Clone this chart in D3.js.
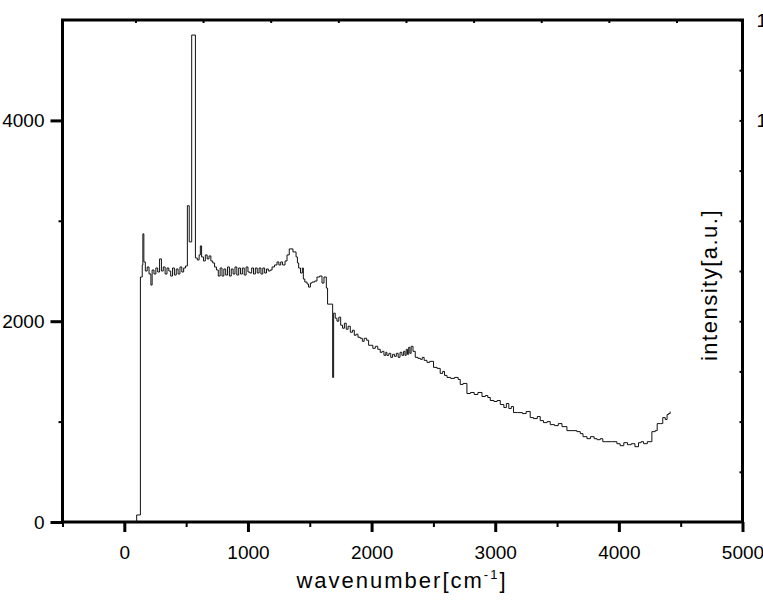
<!DOCTYPE html>
<html>
<head>
<meta charset="utf-8">
<script src="https://cdn.jsdelivr.net/npm/d3@7"></script>
<style>
  body { margin: 0; background: #fff; }
  svg { display: block; font-family: 'Liberation Sans', Arial, sans-serif; }
</style>
</head>
<body>
<svg class="spectrum-svg"></svg>
<script>
// spectrum (cm-1 / counts)
const wavenumber = [
  0, 100, 130, 145, 150, 158, 170, 185, 200, 215, 225, 240, 255, 270, 285, 300,
  315, 330, 345, 360, 375, 390, 405, 420, 435, 450, 465, 480, 495, 510, 525, 545,
  575, 590, 605, 615, 625, 640, 655, 670, 685, 700, 715, 730, 745, 760, 775, 790,
  805, 820, 835, 850, 865, 880, 895, 910, 925, 940, 955, 970, 985, 1000, 1015, 1030,
  1045, 1060, 1075, 1090, 1105, 1120, 1135, 1150, 1165, 1180, 1195, 1215, 1235, 1250, 1265, 1280,
  1300, 1316, 1334, 1364, 1389, 1400, 1410, 1425, 1440, 1448, 1460, 1478, 1490, 1505, 1518, 1540,
  1558, 1580, 1599, 1615, 1634, 1644, 1685, 1693, 1706, 1720, 1735, 1750, 1765, 1780, 1795, 1810,
  1828, 1845, 1860, 1875, 1890, 1908, 1925, 1940, 1960, 1976, 1995, 2010, 2030, 2050, 2070, 2085,
  2100, 2115, 2124, 2140, 2155, 2170, 2185, 2200, 2215, 2230, 2245, 2259, 2270, 2280, 2290, 2300,
  2310, 2320, 2335, 2353, 2375, 2395, 2410, 2425, 2448, 2470, 2501, 2530, 2555, 2575, 2590, 2610,
  2640, 2670, 2700, 2717, 2740, 2771, 2800, 2830, 2860, 2893, 2920, 2940, 2960, 2990, 3015, 3041,
  3070, 3090, 3110, 3130, 3148, 3180, 3220, 3250, 3283, 3310, 3340, 3364, 3390, 3420, 3445, 3480,
  3510, 3540, 3580, 3620, 3660, 3688, 3710, 3742, 3770, 3800, 3823, 3850, 3870, 3890, 3940, 3984,
  4010, 4040, 4070, 4100, 4130, 4159, 4180, 4200, 4230, 4267, 4294, 4310, 4335, 4355, 4375, 4390,
  4402, 4415
];
const intensity = [
  0, 70, 2440, 2560, 2870, 2590, 2500, 2540, 2470, 2360, 2510, 2470, 2530, 2490, 2620, 2500,
  2540, 2470, 2530, 2500, 2450, 2530, 2460, 2520, 2470, 2540, 2490, 2530, 2550, 3150, 2790, 4850,
  2630, 2610, 2660, 2750, 2640, 2600, 2660, 2620, 2650, 2600, 2580, 2540, 2510, 2450, 2530, 2450,
  2520, 2460, 2540, 2450, 2520, 2470, 2540, 2460, 2530, 2470, 2530, 2460, 2540, 2490, 2480, 2530,
  2470, 2530, 2480, 2530, 2470, 2530, 2480, 2520, 2500, 2510, 2540, 2560, 2590, 2560, 2590, 2560,
  2600, 2660, 2720, 2690, 2640, 2580, 2530, 2480, 2530, 2420, 2390, 2370, 2340, 2380, 2390, 2400,
  2440, 2450, 2380, 2440, 2330, 2170, 1440, 2080, 2030, 2000, 2040, 1960, 1930, 1980, 1920, 1950,
  1890, 1910, 1860, 1870, 1840, 1830, 1800, 1830, 1810, 1760, 1760, 1730, 1750, 1720, 1690, 1700,
  1660, 1690, 1660, 1680, 1640, 1670, 1650, 1680, 1640, 1690, 1660, 1700, 1660, 1720, 1670, 1740,
  1680, 1750, 1700, 1640, 1630, 1620, 1640, 1610, 1590, 1600, 1540, 1530, 1480, 1500, 1460, 1440,
  1430, 1440, 1420, 1370, 1380, 1280, 1290, 1270, 1290, 1250, 1260, 1240, 1210, 1200, 1210, 1170,
  1140, 1180, 1130, 1150, 1090, 1090, 1080, 1100, 1040, 1030, 1050, 1010, 990, 1000, 970, 960,
  980, 950, 910, 910, 900, 880, 850, 830, 850, 830, 820, 830, 800, 800, 800, 780,
  760, 790, 770, 780, 750, 790, 800, 780, 800, 900, 910, 980, 980, 1040, 1020, 1070,
  1080, 1100
];

const xTicks = [0, 1000, 2000, 3000, 4000, 5000];
const xMinorTicks = [-500, 500, 1500, 2500, 3500, 4500];
const yTicks = [0, 2000, 4000];
const yMinorTicks = [1000, 3000];
const rightTicks = [500, 1000, 1500, 2000, 2500, 3000, 3500, 4000, 4500, 5000];
const rightLabels = [4000, 5000];
const topTicks = [90, 637, 1184, 1731, 2278, 2825, 3372, 3919, 4466];

const width = 763, height = 605;
const mLeft = 62.5, mRight = 742.5, mTop = 20, mBottom = 522;

const x = d3.scaleLinear()
  .domain([-500, 5000])
  .range([mLeft, mRight]);

const y = d3.scaleLinear()
  .domain([0, 5000])
  .range([mBottom, mTop]);

const svg = d3.select('.spectrum-svg')
  .attr('width', width)
  .attr('height', height);

const styleAxis = (g, w) => {
  g.select('.domain').remove();
  g.selectAll('line').attr('stroke', '#000').attr('stroke-width', w);
  g.selectAll('text')
   .attr('fill', '#000')
   .attr('font-size', 19)
   .attr('font-family', "'Liberation Sans', Arial, sans-serif");
};

// bottom axis
svg.append('g')
   .attr('transform', 'translate(0,' + mBottom + ')')
   .call(d3.axisBottom(x).tickValues(xTicks).tickSize(10).tickPadding(14).tickFormat(d3.format('d')))
   .call(g => styleAxis(g, 3));

svg.append('g')
   .attr('transform', 'translate(0,' + mBottom + ')')
   .call(d3.axisBottom(x).tickValues(xMinorTicks).tickSize(5).tickFormat(''))
   .call(g => styleAxis(g, 2));

// top axis, small inward ticks
svg.append('g')
   .attr('transform', 'translate(0,' + mTop + ')')
   .call(d3.axisTop(x).tickValues(topTicks).tickSize(-3).tickFormat(''))
   .call(g => styleAxis(g, 2));

// left axis
svg.append('g')
   .attr('transform', 'translate(' + mLeft + ',0)')
   .call(d3.axisLeft(y).tickValues(yTicks).tickSize(12).tickPadding(6).tickFormat(d3.format('d')))
   .call(g => styleAxis(g, 3));

svg.append('g')
   .attr('transform', 'translate(' + mLeft + ',0)')
   .call(d3.axisLeft(y).tickValues(yMinorTicks).tickSize(4).tickFormat(''))
   .call(g => styleAxis(g, 2));

// right axis, inward ticks, labels run off the page
svg.append('g')
   .attr('transform', 'translate(' + mRight + ',0)')
   .call(d3.axisRight(y).tickValues(rightTicks).tickSize(-3).tickFormat(''))
   .call(g => styleAxis(g, 2));

svg.append('g')
   .attr('transform', 'translate(' + mRight + ',0)')
   .call(d3.axisRight(y).tickValues(rightLabels).tickSize(0).tickPadding(14).tickFormat(() => '1'))
   .call(g => styleAxis(g, 0));

// frame
svg.append('rect')
   .attr('x', mLeft)
   .attr('y', mTop)
   .attr('width', mRight - mLeft)
   .attr('height', mBottom - mTop)
   .attr('fill', 'none')
   .attr('stroke', '#000')
   .attr('stroke-width', 3);

// spectrum
const pts = wavenumber.map((w, i) => [w, intensity[i]]);

const line = d3.line()
  .x(d => x(d[0]))
  .y(d => y(d[1]))
  .curve(d3.curveStepAfter);

svg.append('path')
   .datum(pts)
   .attr('d', line)
   .attr('fill', 'none')
   .attr('stroke', '#111')
   .attr('stroke-width', 1);

// titles
const xTitle = svg.append('text')
  .attr('x', 402)
  .attr('y', 588)
  .attr('text-anchor', 'middle')
  .attr('font-size', 22)
  .attr('letter-spacing', 2)
  .attr('fill', '#000');
xTitle.append('tspan').text('wavenumber[cm');
xTitle.append('tspan').attr('font-size', 13).attr('dy', -9).text('-1');
xTitle.append('tspan').attr('dy', 9).text(']');

svg.append('text')
   .attr('transform', 'translate(717,285) rotate(-90)')
   .attr('text-anchor', 'middle')
   .attr('font-size', 22)
   .attr('letter-spacing', 1.5)
   .attr('fill', '#000')
   .text('intensity[a.u.]');
</script>
</body>
</html>
